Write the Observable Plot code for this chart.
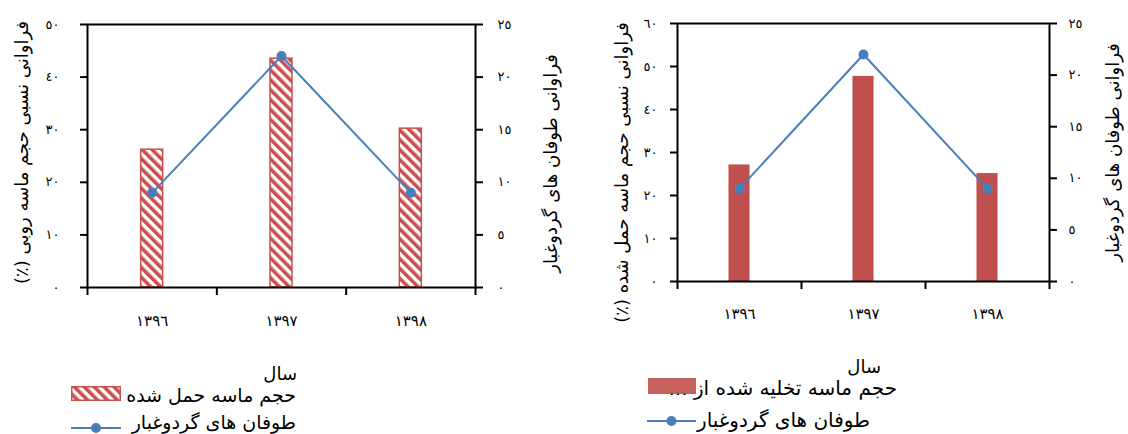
<!DOCTYPE html>
<html><head><meta charset="utf-8">
<script src="https://cdn.jsdelivr.net/npm/d3@7"></script>
<script src="https://cdn.jsdelivr.net/npm/@observablehq/plot@0.6"></script>
<style>
html,body{margin:0;padding:0;background:#fff;}
#root{position:relative;width:1128px;height:434px;overflow:hidden;font-family:"DejaVu Sans",sans-serif;}
.panel{position:absolute;top:0;}
.lg{position:absolute;direction:rtl;white-space:nowrap;color:#000;font-size:15px;line-height:20px;transform:translateY(-50%);}
.sw{position:absolute;overflow:visible;}
</style></head><body><div id="root"></div>
<script>
// ---- data ----
const years = ["١٣٩٦", "١٣٩٧", "١٣٩٨"];
const carriedSand = [26.2, 43.5, 30.2];      // left panel bars (%)
const dischargedSand = [27.1, 47.7, 25.1];   // right panel bars (%)
const dustStorms = [9, 22, 9];               // line, both panels
const ticksLeftPanel = [0, 10, 20, 30, 40, 50];
const ticksRightPanel = [0, 10, 20, 30, 40, 50, 60];
const stormTicks = [0, 5, 10, 15, 20, 25];
const yTitleLeftPanel = "فراوانی نسبی حجم ماسه روبی (٪)";
const yTitleRightPanel = "فراوانی نسبی حجم ماسه حمل شده (٪)";
const y2Title = "فراوانی طوفان های گردوغبار";
const xTitle = "سال";
const legendLeft = ["حجم ماسه حمل شده", "طوفان های گردوغبار"];
const legendRight = ["حجم ماسه تخلیه شده از ...", "طوفان های گردوغبار"];

const ar = n => String(n).replace(/\d/g, d => "٠١٢٣٤٥٦٧٨٩"[+d]);
const RED = "#c0504d", HATCH = "#c9504f", BLUE = "#4a7ebb";
const root = document.getElementById("root");

function panel(o) {
  const k = o.yMax / 25;
  const hw = 0.085;
  const rows = years.map((yr, i) => ({i, yr, v: o.bars[i], s: dustStorms[i] * k}));
  const chart = Plot.plot({
    width: o.width, height: o.height,
    marginLeft: o.mL, marginRight: o.mR, marginTop: o.mT, marginBottom: o.mB,
    style: {fontFamily: "DejaVu Sans", fontSize: "13px", color: "#000", background: "transparent", overflow: "visible"},
    x: {domain: [0, 3], axis: null},
    y: {domain: [0, o.yMax], axis: null},
    marks: [
      Plot.rectY(rows, {x1: d => d.i + 0.5 - hw, x2: d => d.i + 0.5 + hw, y1: 0, y2: "v",
        fill: o.hatch ? "url(#hatchL)" : RED, stroke: o.hatch ? HATCH : "none", strokeWidth: 1.5}),
      Plot.frame({stroke: "#000", strokeWidth: 2}),
      Plot.axisY(o.ticks, {anchor: "left", tickSize: 7, tickPadding: o.padL, strokeWidth: 2, tickFormat: d => ar(d), label: null, fontSize: 13}),
      Plot.axisY(stormTicks.map(t => t * k), {anchor: "right", tickSize: 7, tickPadding: o.padR, strokeWidth: 2, tickFormat: d => ar(Math.round(d / k)), label: null, fontSize: 13}),
      Plot.axisX([0, 1, 2, 3], {tickSize: 8, strokeWidth: 2, tickFormat: () => "", label: null}),
      Plot.axisX([0.5, 1.5, 2.5], {tickSize: 0, tickPadding: o.padX, tickFormat: d => years[Math.floor(d)], label: null, fontSize: 15}),
      Plot.line(rows, {x: d => d.i + 0.5, y: "s", stroke: BLUE, strokeWidth: 2}),
      Plot.dot(rows, {x: d => d.i + 0.5, y: "s", r: 5, fill: BLUE}),
      Plot.text([o.yTitle], {text: d => d, frameAnchor: "left", textAnchor: "middle", lineAnchor: "middle", dx: o.t1dx, dy: o.t1dy, rotate: -90, fontSize: 18}),
      Plot.text([y2Title], {text: d => d, frameAnchor: "right", textAnchor: "middle", lineAnchor: "middle", dx: o.t2dx, dy: o.t2dy, rotate: -90, fontSize: 18})
    ]
  });
  d3.select(chart).insert("defs", ":first-child").html(
    `<pattern id="hatchL" patternUnits="userSpaceOnUse" width="7" height="7" patternTransform="rotate(-45)">
       <rect width="7" height="7" fill="#fff"/><rect width="3.6" height="7" fill="${HATCH}"/></pattern>`);
  d3.select(chart).selectAll("text").filter(function() { return /[\u0621-\u064A\u06A9-\u06CC]/.test(this.textContent); })
    .attr("direction", "rtl");
  const div = document.createElement("div");
  div.className = "panel";
  div.style.left = o.left + "px";
  div.appendChild(chart);
  root.appendChild(div);
}

panel({left: 0, width: 560, height: 340, mL: 87, mR: 85, mT: 24, mB: 53, yMax: 50,
  bars: carriedSand, hatch: true, ticks: ticksLeftPanel, padL: 21, padR: 15, padX: 28,
  yTitle: yTitleLeftPanel, t1dx: -65, t1dy: -3.5, t2dx: 76, t2dy: 7.5});
panel({left: 560, width: 568, height: 340, mL: 117, mR: 79, mT: 23, mB: 59, yMax: 60,
  bars: dischargedSand, hatch: false, ticks: ticksRightPanel, padL: 13, padR: 12, padX: 27,
  yTitle: yTitleRightPanel, t1dx: -55, t1dy: 20, t2dx: 64, t2dy: 0});

// ---- legends / x titles ----
function addText(txt, right, cy, size) {
  const d = document.createElement("div");
  d.className = "lg";
  d.textContent = txt;
  d.style.right = (1128 - right) + "px";
  d.style.top = cy + "px";
  if (size) d.style.fontSize = size + "px";
  root.appendChild(d);
}
function addSwatch(kind, x, y, w, h) {
  const ns = "http://www.w3.org/2000/svg";
  const s = document.createElementNS(ns, "svg");
  s.setAttribute("class", "sw");
  s.setAttribute("width", w); s.setAttribute("height", h);
  s.style.left = x + "px"; s.style.top = y + "px";
  if (kind === "hatch") {
    s.innerHTML = `<defs><pattern id="hatchS" patternUnits="userSpaceOnUse" width="7" height="7" patternTransform="rotate(-45)">
       <rect width="7" height="7" fill="#fff"/><rect width="3.6" height="7" fill="${HATCH}"/></pattern></defs>
       <rect x="0.75" y="0.75" width="${w - 1.5}" height="${h - 1.5}" fill="url(#hatchS)" stroke="${HATCH}" stroke-width="1.5"/>`;
  } else if (kind === "solid") {
    s.innerHTML = `<rect width="${w}" height="${h}" fill="${RED}" opacity="0.9"/>`;
  } else {
    s.innerHTML = `<line x1="0" x2="${w}" y1="${h / 2}" y2="${h / 2}" stroke="${BLUE}" stroke-width="2"/>
       <circle cx="${w / 2}" cy="${h / 2}" r="5" fill="${BLUE}"/>`;
  }
  root.appendChild(s);
}
addText(xTitle, 297, 374, 18);
addSwatch("hatch", 71, 386, 50, 15);
addText(legendLeft[0], 296, 395, 19);
addSwatch("line", 71, 418, 50, 20);
addText(legendLeft[1], 296, 422, 19);

addText(xTitle, 881, 367, 18);
addText(legendRight[0], 897, 388, 20);
addSwatch("solid", 648, 378, 48, 16);
addSwatch("line", 647, 411, 49, 20);
addText(legendRight[1], 870, 420, 20);
</script></body></html>
